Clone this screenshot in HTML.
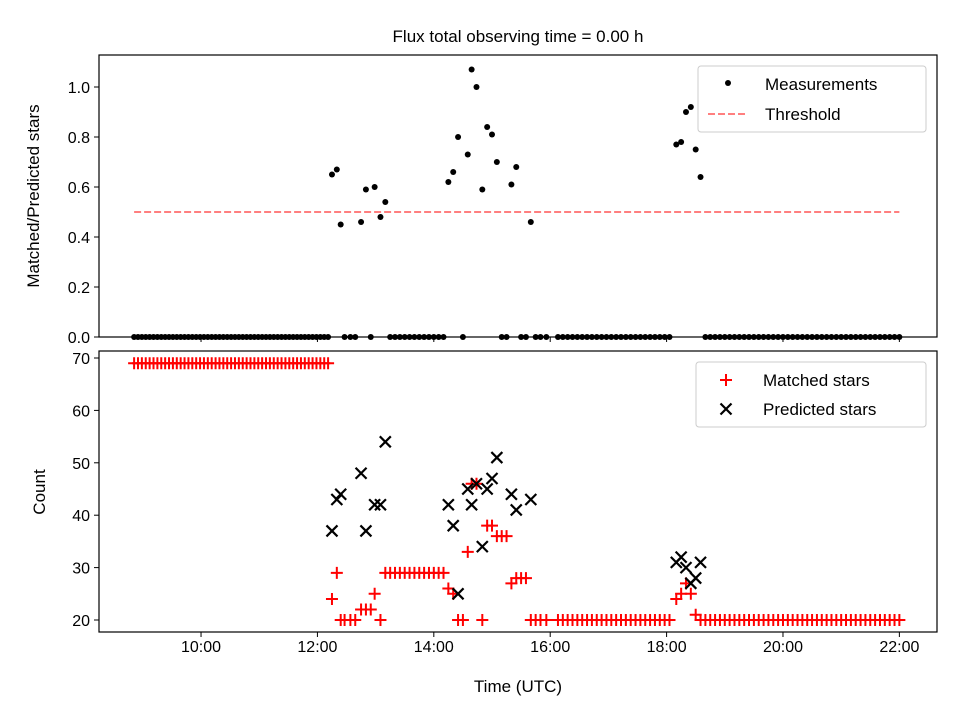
<!DOCTYPE html>
<html><head><meta charset="utf-8">
<style>
body{margin:0;background:#fff;}
svg text{font-family:"Liberation Sans","DejaVu Sans",sans-serif;fill:#000;}
</style></head>
<body>
<svg id="chart" width="960" height="720" viewBox="0 0 960 720" xmlns="http://www.w3.org/2000/svg">
<rect width="960" height="720" fill="#fff"/>
<text x="518" y="42" font-size="17" text-anchor="middle">Flux total observing time = 0.00 h</text>
<g id="gtop"></g>
<g id="gbot"></g>
</svg>
<script>
// minutes since midnight (UTC)
const times = [531,535,539,543,547,551,555,559,563,567,571,575,579,583,587,591,595,599,603,607,611,615,619,623,627,631,635,639,643,647,651,655,659,663,667,671,675,679,683,687,691,695,699,703,707,711,715,719,723,727,731,
735,740,744,748,754,759,765,770,775,779,785,790,
795,800,805,810,815,820,825,830,835,840,845,850,
855,860,865,870,875,879,884,890,895,900,905,910,915,920,925,930,935,940,945,950,956,
968,973,978,983,988,993,998,1003,1008,1013,1018,1023,1028,1033,1038,1043,1048,1053,1058,1063,1068,1073,1078,1083,
1090,1095,1100,1105,1110,1115,
1120,1125,1130,1135,1140,1145,1150,1155,1160,1165,1170,1175,1180,1185,1190,1195,1200,1205,1210,1215,1220,1225,1230,1235,1240,1245,1250,1255,1260,1265,1270,1275,1280,1285,1290,1295,1300,1305,1310,1315,1320];
const matched = [69,69,69,69,69,69,69,69,69,69,69,69,69,69,69,69,69,69,69,69,69,69,69,69,69,69,69,69,69,69,69,69,69,69,69,69,69,69,69,69,69,69,69,69,69,69,69,69,69,69,69,
24,29,20,20,20,20,22,22,22,25,20,29,
29,29,29,29,29,29,29,29,29,29,29,29,
26,25,20,20,33,46,46,20,38,38,36,36,36,27,28,28,28,20,20,20,20,
20,20,20,20,20,20,20,20,20,20,20,20,20,20,20,20,20,20,20,20,20,20,20,20,
24,25,27,25,21,20,
20,20,20,20,20,20,20,20,20,20,20,20,20,20,20,20,20,20,20,20,20,20,20,20,20,20,20,20,20,20,20,20,20,20,20,20,20,20,20,20,20];
const predicted = [null,null,null,null,null,null,null,null,null,null,null,null,null,null,null,null,null,null,null,null,null,null,null,null,null,null,null,null,null,null,null,null,null,null,null,null,null,null,null,null,null,null,null,null,null,null,null,null,null,null,null,
37,43,44,null,null,null,48,37,null,42,42,54,
null,null,null,null,null,null,null,null,null,null,null,null,
42,38,25,null,45,42,46,34,45,47,51,null,null,44,41,null,null,43,null,null,null,
null,null,null,null,null,null,null,null,null,null,null,null,null,null,null,null,null,null,null,null,null,null,null,null,
31,32,30,27,28,31,
null,null,null,null,null,null,null,null,null,null,null,null,null,null,null,null,null,null,null,null,null,null,null,null,null,null,null,null,null,null,null,null,null,null,null,null,null,null,null,null,null];
const ratio = [0,0,0,0,0,0,0,0,0,0,0,0,0,0,0,0,0,0,0,0,0,0,0,0,0,0,0,0,0,0,0,0,0,0,0,0,0,0,0,0,0,0,0,0,0,0,0,0,0,0,0,
0.65,0.67,0.45,0,0,0,0.46,0.59,0,0.60,0.48,0.54,
0,0,0,0,0,0,0,0,0,0,0,0,
0.62,0.66,0.80,0,0.73,1.07,1.00,0.59,0.84,0.81,0.70,0,0,0.61,0.68,0,0,0.46,0,0,0,
0,0,0,0,0,0,0,0,0,0,0,0,0,0,0,0,0,0,0,0,0,0,0,0,
0.77,0.78,0.90,0.92,0.75,0.64,
0,0,0,0,0,0,0,0,0,0,0,0,0,0,0,0,0,0,0,0,0,0,0,0,0,0,0,0,0,0,0,0,0,0,0,0,0,0,0,0,0];
const threshold = 0.5;
const xTickMinutes = [600,720,840,960,1080,1200,1320];
const xTickLabels = ["10:00","12:00","14:00","16:00","18:00","20:00","22:00"];
const topTicks = [0.0,0.2,0.4,0.6,0.8,1.0];
const botTicks = [20,30,40,50,60,70];

(function(){
const NS="http://www.w3.org/2000/svg";
const L=99,R=937,T1=55,B1=337,T2=351,B2=632;
const xMin=494.8,xMax=1358.8;
const X=m=>L+(m-xMin)/(xMax-xMin)*(R-L);
const Y1=v=>337-v*250;
const Y2=v=>620-(v-20)*5.24;
function mk(tag,attrs,parent){const e=document.createElementNS(NS,tag);for(const k in attrs)e.setAttribute(k,attrs[k]);parent.appendChild(e);return e;}
const gT=document.getElementById('gtop'),gB=document.getElementById('gbot');
const n=times.length;

let th=mk('line',{x1:X(times[0]),x2:X(times[n-1]),y1:Y1(threshold),y2:Y1(threshold),stroke:'#ff7f7f','stroke-width':2,'stroke-dasharray':'7,3'},gT);


for(let i=0;i<n;i++){
  if(ratio[i]==null)continue;
  const c=mk('circle',{cx:X(times[i]),cy:Y1(ratio[i]),r:3,fill:'#000'},gT);
  
  
}
for(let i=0;i<n;i++){
  if(matched[i]==null)continue;
  const x=X(times[i]),y=Y2(matched[i]);
  const p=mk('path',{d:`M${x-6},${y}H${x+6}M${x},${y-6}V${y+6}`,stroke:'#f00','stroke-width':2,fill:'none'},gB);
  
  
}
for(let i=0;i<n;i++){
  if(predicted[i]==null)continue;
  const x=X(times[i]),y=Y2(predicted[i]);
  const p=mk('path',{d:`M${x-5.5},${y-5.5}L${x+5.5},${y+5.5}M${x-5.5},${y+5.5}L${x+5.5},${y-5.5}`,stroke:'#000','stroke-width':2.2,fill:'none'},gB);
  
  
}
[[gT,T1,B1],[gB,T2,B2]].forEach(([g,t,b])=>{
  const f=mk('rect',{x:L,y:t,width:R-L,height:b-t,fill:'none',stroke:'#000','stroke-width':1.2},g);
  
  
  xTickMinutes.forEach(m=>{mk('line',{x1:X(m),x2:X(m),y1:b,y2:b+5,stroke:'#000','stroke-width':1},g);});
});
xTickMinutes.forEach((m,i)=>{
  const tx=mk('text',{x:X(m),y:B2+20,'font-size':16,'text-anchor':'middle'},gB);
  tx.textContent=xTickLabels[i];
  
  
});
topTicks.forEach(v=>{
  mk('line',{x1:L-5,x2:L,y1:Y1(v),y2:Y1(v),stroke:'#000'},gT);
  const tx=mk('text',{x:L-9,y:Y1(v)+6,'font-size':16,'text-anchor':'end'},gT);
  tx.textContent=v.toFixed(1);
  
  
});
botTicks.forEach(v=>{
  mk('line',{x1:L-5,x2:L,y1:Y2(v),y2:Y2(v),stroke:'#000'},gB);
  const tx=mk('text',{x:L-9,y:Y2(v)+6,'font-size':16,'text-anchor':'end'},gB);
  tx.textContent=String(v);
  
  
});
})();
</script>
<svg width="960" height="720" style="position:absolute;left:0;top:0" xmlns="http://www.w3.org/2000/svg">
<text x="518" y="692" font-size="17" text-anchor="middle">Time (UTC)</text>
<text transform="translate(39,196) rotate(-90)" font-size="17" text-anchor="middle">Matched/Predicted stars</text>
<text transform="translate(45,492) rotate(-90)" font-size="17" text-anchor="middle">Count</text>
<g>
<rect x="698" y="66" width="228" height="66" rx="3" fill="#fff" fill-opacity="0.8" stroke="#ccc"/>
<circle cx="728" cy="83" r="3" fill="#000"/>
<text x="765" y="90" font-size="17">Measurements</text>
<line x1="708" x2="748" y1="114" y2="114" stroke="#ff7f7f" stroke-width="2" stroke-dasharray="7,3"/>
<text x="765" y="120" font-size="17">Threshold</text>
</g>
<g>
<rect x="696" y="362" width="230" height="65" rx="3" fill="#fff" fill-opacity="0.8" stroke="#ccc"/>
<path d="M720,380H732M726,374V386" stroke="#f00" stroke-width="2"/>
<text x="763" y="386" font-size="17">Matched stars</text>
<path d="M720.5,403.5L731.5,414.5M720.5,414.5L731.5,403.5" stroke="#000" stroke-width="2.2"/>
<text x="763" y="415" font-size="17">Predicted stars</text>
</g>
</svg>
</body></html>
